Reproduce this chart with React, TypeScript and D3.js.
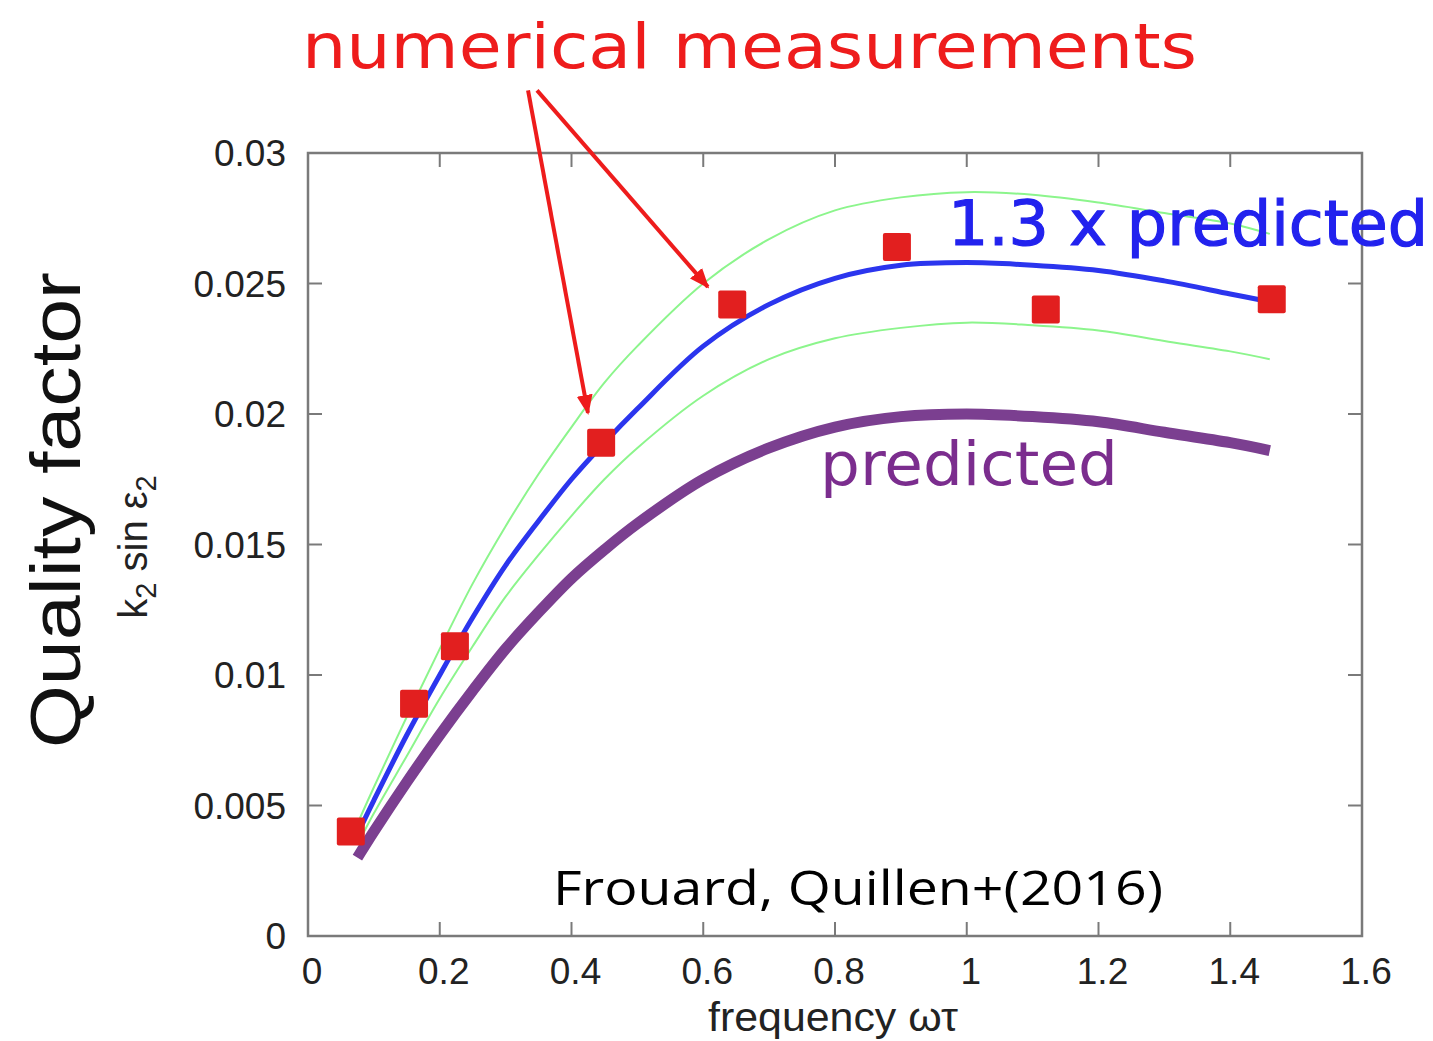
import React from "react";
import * as d3 from "d3";

const freq = [0.075, 0.1, 0.15, 0.2, 0.25, 0.3, 0.35, 0.4, 0.45, 0.5, 0.6, 0.7, 0.8, 0.9, 1.0, 1.1, 1.2, 1.3, 1.4, 1.46];
const predicted = [0.0030, 0.0040, 0.0059, 0.0077, 0.0094, 0.0110, 0.0124, 0.0137, 0.0148, 0.0158, 0.0175, 0.0187, 0.0195, 0.0199, 0.0200, 0.0199, 0.0197, 0.0193, 0.0189, 0.0186];
const scaled = [0.0039, 0.0052, 0.0077, 0.0100, 0.0122, 0.0142, 0.0159, 0.0175, 0.0189, 0.0202, 0.0226, 0.0242, 0.0252, 0.0257, 0.0258, 0.0257, 0.0255, 0.0251, 0.0246, 0.0243];
const upperBand = [0.0043, 0.0057, 0.0084, 0.0110, 0.0135, 0.0157, 0.0177, 0.0195, 0.0212, 0.0226, 0.0250, 0.0267, 0.0278, 0.0283, 0.0285, 0.0284, 0.0281, 0.0277, 0.0273, 0.0269];
const lowerBand = [0.0035, 0.0047, 0.0069, 0.0091, 0.0111, 0.0130, 0.0146, 0.0161, 0.0175, 0.0187, 0.0207, 0.0221, 0.0229, 0.0233, 0.0235, 0.0234, 0.0232, 0.0228, 0.0224, 0.0221];

const measX = [0.065, 0.161, 0.223, 0.445, 0.644, 0.894, 1.12, 1.463];
const measY = [0.0040, 0.0089, 0.0111, 0.0189, 0.0242, 0.0264, 0.0240, 0.0244];

const xTicks = [0, 0.2, 0.4, 0.6, 0.8, 1, 1.2, 1.4, 1.6];
const yTicks = [0, 0.005, 0.01, 0.015, 0.02, 0.025, 0.03];
const yTickLabels = ["0", "0.005", "0.01", "0.015", "0.02", "0.025", "0.03"];

const arrowStart = [0.3416, 0.0324];
const arrowTips = [[0.425, 0.02004], [0.607, 0.02487]];

export default function App() {
  const W = 1433, H = 1041;
  const left = 308, right = 1362, top = 153, bottom = 936;
  const x = d3.scaleLinear().domain([0, 1.6]).range([left, right]);
  const y = d3.scaleLinear().domain([0, 0.03]).range([bottom, top]);
  const line = (vals: number[]) =>
    d3.line<number>().x((_, i) => x(freq[i])).y((v) => y(v)).curve(d3.curveCatmullRom.alpha(0.5))(vals) || "";
  const axisFont = "'Liberation Sans', Arial, sans-serif";
  const frame = "#7a7a7a";
  const sq = 28;
  return (
    <svg width={W} height={H} style={{ position: "absolute", left: 0, top: 0, background: "#fff" }}>
      <defs>
        <marker id="ah" viewBox="0 0 10 10" refX="9" refY="5" markerWidth="5" markerHeight="5" orient="auto" markerUnits="strokeWidth">
          <path d="M0,1 L10,5 L0,9 Z" fill="#ee1c1c" />
        </marker>
      </defs>
      {/* ticks */}
      {xTicks.slice(1, -1).map((t) => (
        <g key={"xt" + t}>
          <line x1={x(t)} x2={x(t)} y1={bottom} y2={bottom - 14} stroke={frame} strokeWidth={2} />
          <line x1={x(t)} x2={x(t)} y1={top} y2={top + 14} stroke={frame} strokeWidth={2} />
        </g>
      ))}
      {yTicks.slice(1, -1).map((t) => (
        <g key={"yt" + t}>
          <line x1={left} x2={left + 14} y1={y(t)} y2={y(t)} stroke={frame} strokeWidth={2} />
          <line x1={right} x2={right - 14} y1={y(t)} y2={y(t)} stroke={frame} strokeWidth={2} />
        </g>
      ))}
      <rect x={left} y={top} width={right - left} height={bottom - top} fill="none" stroke={frame} strokeWidth={2.5} />
      {/* tick labels */}
      {yTicks.map((t, i) => (
        <text key={"yl" + t} x={286} y={y(t)} dy="0.36em" textAnchor="end" fontFamily={axisFont} fontSize={37} fill="#222">
          {yTickLabels[i]}
        </text>
      ))}
      {xTicks.map((t) => (
        <text key={"xl" + t} x={x(t) + 4} y={984} textAnchor="middle" fontFamily={axisFont} fontSize={37} fill="#222">
          {String(t)}
        </text>
      ))}
      <text x={833} y={1031} textAnchor="middle" fontFamily={axisFont} fontSize={40} fill="#222" textLength={250} lengthAdjust="spacingAndGlyphs">
        frequency ωτ
      </text>
      {/* y-axis titles */}
      <text transform="translate(80,510) rotate(-90)" textAnchor="middle" fontFamily={axisFont} fontSize={70} fill="#111" textLength={476} lengthAdjust="spacingAndGlyphs">
        Quality factor
      </text>
      <text transform="translate(147,547) rotate(-90)" textAnchor="middle" fontFamily={axisFont} fontSize={40} fill="#222">
        k<tspan fontSize={29} dy={9}>2</tspan><tspan dy={-9}> sin ε</tspan><tspan fontSize={29} dy={9}>2</tspan>
      </text>
      {/* curves */}
      <path d={line(upperBand)} fill="none" stroke="#8cf58c" strokeWidth={2} />
      <path d={line(lowerBand)} fill="none" stroke="#8cf58c" strokeWidth={2} />
      <path d={line(predicted)} fill="none" stroke="#7b3f90" strokeWidth={11} />
      <path d={line(scaled)} fill="none" stroke="#2b35ee" strokeWidth={5} />
      {/* measurements */}
      {measX.map((mx, i) => (
        <rect key={"m" + i} x={x(mx) - sq / 2} y={y(measY[i]) - sq / 2} width={sq} height={sq} fill="#e21f1f" rx={2} />
      ))}
      {/* arrows */}
      {arrowTips.map((tip, i) => (
        <line key={"ar" + i} x1={x(arrowStart[0]) + (i === 0 ? -5 : 4)} y1={y(arrowStart[1])} x2={x(tip[0])} y2={y(tip[1])}
          stroke="#ee1c1c" strokeWidth={4} markerEnd="url(#ah)" />
      ))}
      {/* annotations */}
      <text x={302} y={68} fontFamily="'DejaVu Sans', sans-serif" fontSize={62} fill="#ee1c1c" textLength={895} lengthAdjust="spacingAndGlyphs">
        numerical measurements
      </text>
      <text x={948} y={245} fontFamily="'DejaVu Sans', sans-serif" fontSize={62} fill="#2222ee" stroke="#2222ee" strokeWidth={1.2} textLength={480} lengthAdjust="spacingAndGlyphs">
        1.3 x predicted
      </text>
      <text x={820} y={485} fontFamily="'DejaVu Sans', sans-serif" fontSize={60} fill="#7b2d8e" textLength={298} lengthAdjust="spacingAndGlyphs">
        predicted
      </text>
      <text x={553} y={905} fontFamily="'Open Sans', 'DejaVu Sans', sans-serif" fontSize={48} fill="#000" textLength={610} lengthAdjust="spacingAndGlyphs">
        Frouard, Quillen+(2016)
      </text>
    </svg>
  );
}
